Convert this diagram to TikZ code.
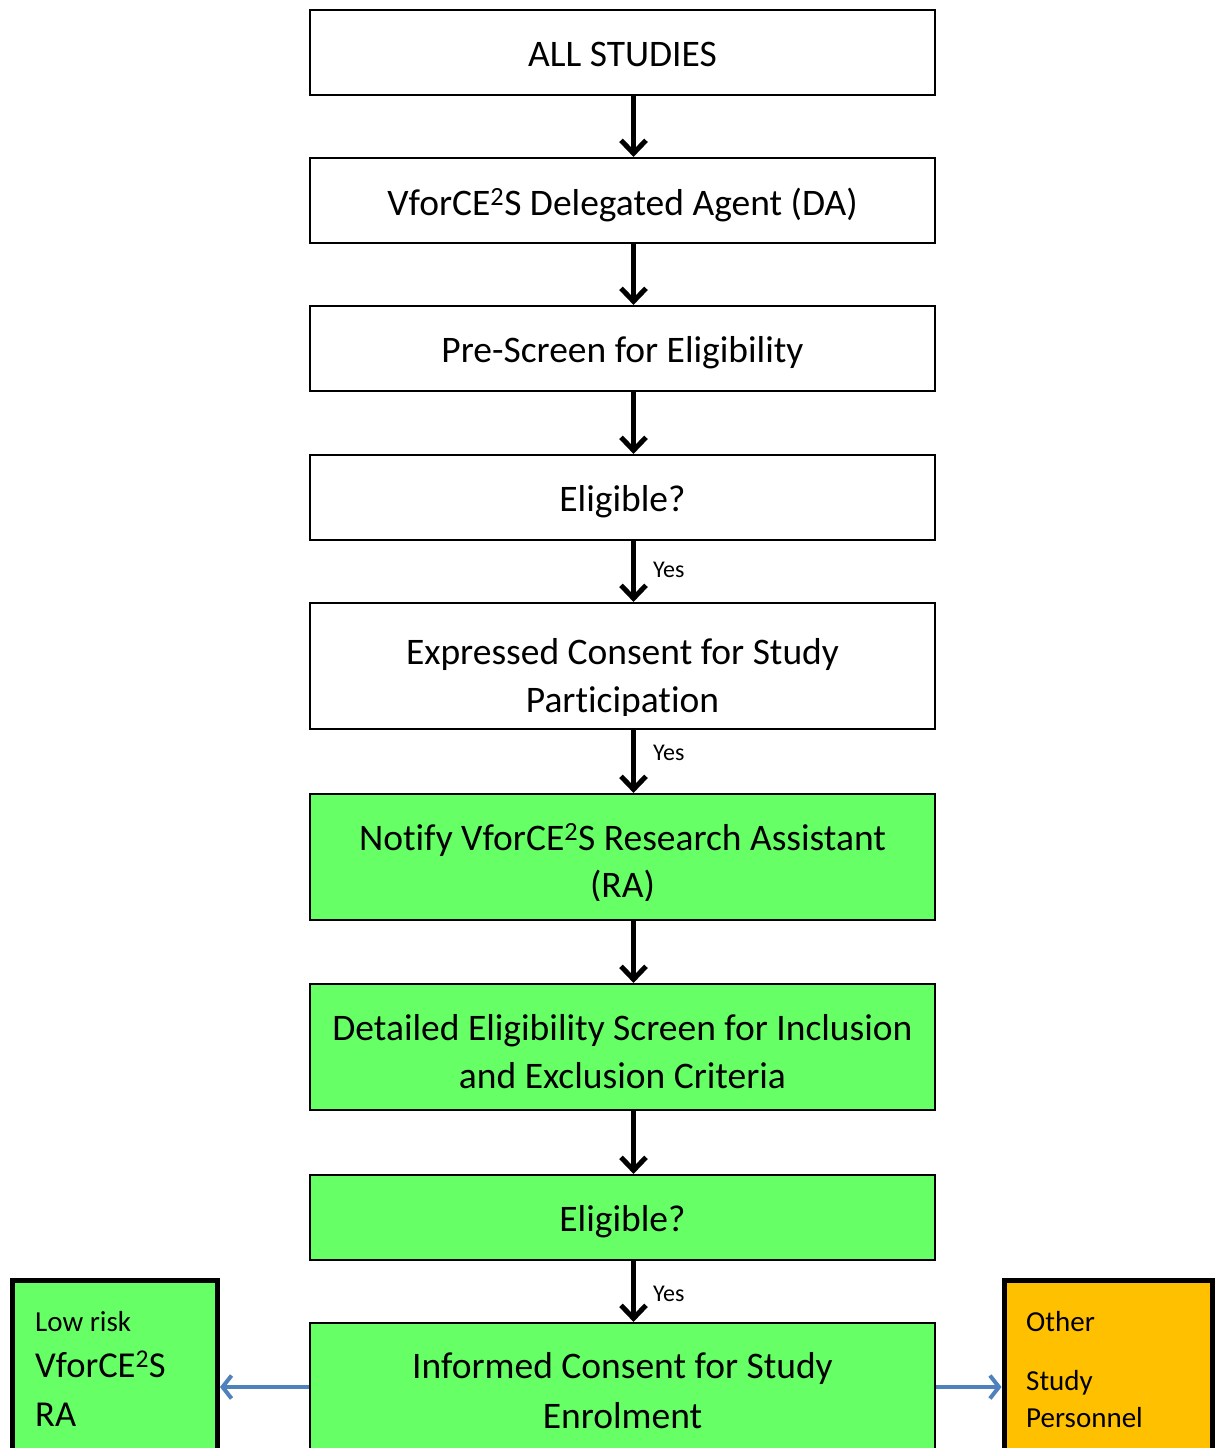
\documentclass[tikz,border=0pt]{standalone}
\usepackage{fontspec}
\setmainfont[Ligatures=NoCommon]{Carlito}
\usetikzlibrary{arrows.meta}
\definecolor{boxgreen}{HTML}{66FF66}
\definecolor{boxorange}{HTML}{FFC000}
\definecolor{arrblue}{HTML}{4F81BD}
\tikzset{
  flowbox/.style={draw=black, line width=2.2pt, rectangle, minimum width=625pt, inner sep=0pt},
  onebox/.style={flowbox, minimum height=85pt},
  twobox/.style={flowbox, minimum height=126pt},
  greenfill/.style={fill=boxgreen},
  boxtext/.style={anchor=base, inner sep=0pt, font=\fontsize{37.5}{48}\selectfont},
  downarr/.style={line width=5pt, -{Straight Barb[length=13pt,width=25pt,line width=5pt]}},
  sidearr/.style={draw=arrblue, line width=4pt, -{Straight Barb[length=9pt,width=23pt,line width=4pt]}},
  yeslbl/.style={font=\fontsize{24}{28}\selectfont, anchor=base west, inner sep=0pt},
  sidebox/.style={draw=black, line width=5pt, rectangle, inner sep=0pt},
  sidetext/.style={anchor=base west, inner sep=0pt},
}
\begin{document}
\begin{tikzpicture}[x=1pt,y=-1pt]
\clip (0,0) rectangle (1215,1448);
\fill[white] (0,0) rectangle (1215,1448);

% main column boxes
\node[onebox] (b1) at (622.5,52.5) {};
\node[onebox] (b2) at (622.5,200.5) {};
\node[onebox] (b3) at (622.5,348.5) {};
\node[onebox] (b4) at (622.5,497.5) {};
\node[twobox] (b5) at (622.5,666) {};
\node[twobox, greenfill] (b6) at (622.5,857) {};
\node[twobox, greenfill] (b7) at (622.5,1047) {};
\node[onebox, greenfill] (b8) at (622.5,1217.5) {};
\node[twobox, greenfill] (b9) at (622.5,1386) {};

% texts
\node[boxtext] (t1) at (622.5,66) {ALL STUDIES};
\node[boxtext] (t2) at (622.5,215) {VforCE\textsuperscript{2}S Delegated Agent (DA)};
\node[boxtext] (t3) at (622.5,362) {Pre-Screen for Eligibility};
\node[boxtext] (t4) at (622.5,511) {Eligible?};
\node[boxtext] (t5a) at (622.5,664) {Expressed Consent for Study};
\begin{scope}
  \clip (310,680) rectangle (935,715);
  \node[boxtext] (t5b) at (622.5,712) {Participation};
\end{scope}
\node[boxtext] (t6a) at (622.5,850) {Notify VforCE\textsuperscript{2}S Research Assistant};
\begin{scope}
  \clip (310,860) rectangle (935,900);
  \node[boxtext] (t6b) at (622.5,897) {(RA)};
\end{scope}
\node[boxtext] (t7a) at (622.5,1040) {Detailed Eligibility Screen for Inclusion};
\node[boxtext] (t7b) at (622.5,1088) {and Exclusion Criteria};
\node[boxtext] (t8) at (622.5,1231) {Eligible?};
\node[boxtext] (t9a) at (622.5,1378) {Informed Consent for Study};
\node[boxtext] (t9b) at (622.5,1428) {Enrolment};

% side boxes
\node[sidebox, fill=boxgreen, minimum width=205pt, minimum height=190pt] (lb) at (115,1375.5) {};
\node[sidetext, font=\fontsize{29}{34}\selectfont] (lt1) at (35,1331) {Low risk};
\node[sidetext, font=\fontsize{36.5}{40}\selectfont] (lt2) at (35,1377) {VforCE\textsuperscript{2}S};
\node[sidetext, font=\fontsize{36.5}{40}\selectfont] (lt3) at (35,1426) {RA};

\node[sidebox, fill=boxorange, minimum width=208.5pt, minimum height=190pt] (rb) at (1108.25,1375.5) {};
\node[sidetext, font=\fontsize{29}{34}\selectfont] (rt1) at (1026,1331) {Other};
\node[sidetext, font=\fontsize{29}{34}\selectfont] (rt2) at (1026,1390) {Study};
\node[sidetext, font=\fontsize{29}{34}\selectfont] (rt3) at (1026,1427) {Personnel};

% connectors
\foreach \a/\b in {b1/b2,b2/b3,b3/b4,b4/b5,b5/b6,b6/b7,b7/b8,b8/b9}{
  \draw[downarr] ([xshift=11pt]\a.south) -- ([xshift=11pt]\b.north);
}
\node[yeslbl] (y1) at (653,577) {Yes};
\node[yeslbl] (y2) at (653,760) {Yes};
\node[yeslbl] (y3) at (653,1301) {Yes};

\draw[sidearr] (b9.west |- 0,1387) -- (lb.east |- 0,1387);
\draw[sidearr] (b9.east |- 0,1387) -- (rb.west |- 0,1387);
\end{tikzpicture}
\end{document}
